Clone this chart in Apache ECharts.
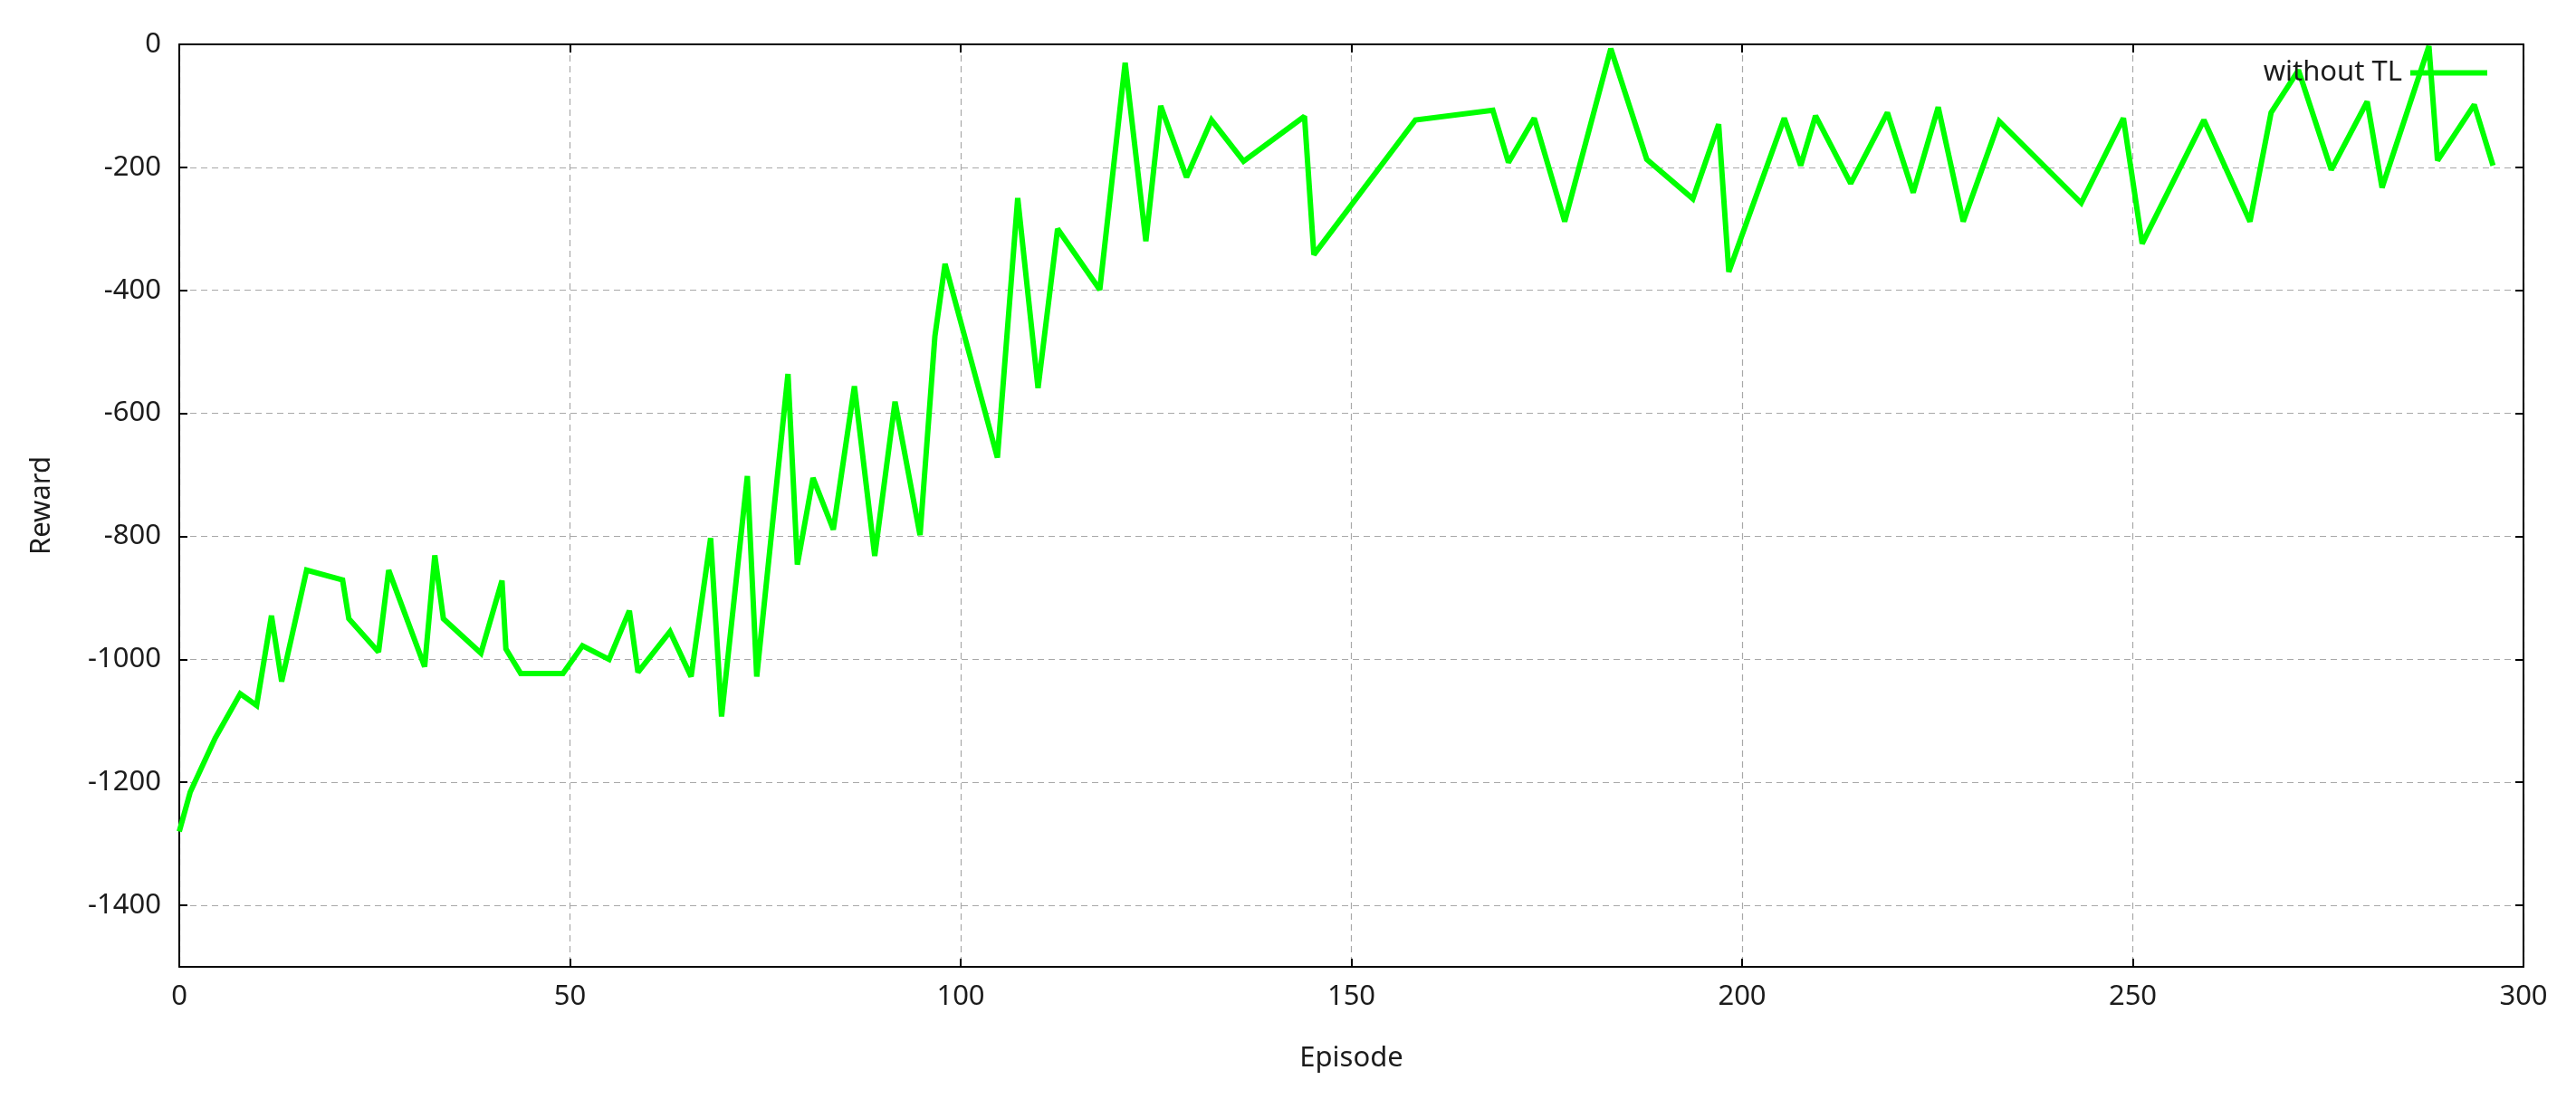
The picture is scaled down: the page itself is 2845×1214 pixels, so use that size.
<!DOCTYPE html>
<html>
<head>
<meta charset="utf-8">
<script src="https://cdn.jsdelivr.net/npm/echarts@6/dist/echarts.min.js"></script>
<style>
html,body{margin:0;padding:0;background:#fff;}
#chart{width:2845px;height:1214px;}
</style>
</head>
<body>
<div id="chart"></div>
<script>
const seriesName = 'without TL';
const xLabelName = 'Episode';
const yLabelName = 'Reward';

const episodes = [0, 1.4, 4.6, 7.8, 9.9, 11.8, 13.1, 16.3, 20.9, 21.7, 25.5, 26.8, 31.4, 32.7, 33.8, 38.6, 41.3, 41.8, 43.7, 49.1,
  51.6, 55.0, 57.6, 58.7, 62.8, 65.5, 68.0, 69.4, 72.7, 73.9, 77.9, 79.1, 81.1, 83.7, 86.4, 89.0, 91.6, 94.8, 96.7, 98.0,
  104.7, 107.3, 109.9, 112.4, 117.8, 121.05, 123.7, 125.6, 128.9, 132.1, 136.2, 144.0, 145.2, 158.2, 168.1, 170.1, 173.4, 177.3, 183.2, 187.8,
  193.7, 197.0, 198.3, 205.4, 207.5, 209.4, 213.9, 218.6, 221.9, 225.1, 228.3, 232.9, 243.4, 248.8, 251.2, 259.1, 265.0, 267.7, 271.2, 275.4,
  280.0, 281.9, 287.9, 289.0, 293.7, 296.1];
const rewards = [-1280, -1216, -1128, -1056, -1075, -929, -1036, -855, -871, -934, -988, -855, -1012, -831, -934, -990, -872, -983, -1023, -1023,
  -978, -1000, -921, -1021, -955, -1028, -803, -1093, -702, -1028, -536, -846, -705, -789, -556, -832, -581, -798, -475, -357,
  -672, -250, -559, -300, -399, -30, -320, -100, -216, -123, -190, -117, -342, -123, -107, -192, -120, -288, -7, -187,
  -251, -130, -370, -120, -197, -116, -226, -111, -241, -102, -288, -125, -258, -120, -324, -123, -288, -111, -42, -204,
  -93, -233, -3, -189, -98, -197];

const xMin = 0, xMax = 300, xStep = 50;
const yMin = -1500, yMax = 0, yStep = 200;

const FONT = 'Noto Sans';
const TXT = '#1c1c1c';
const data = episodes.map((e, i) => [e, rewards[i]]);

function axisLine() { return {show: true, onZero: false, lineStyle: {color: '#000', width: 2}}; }
function ticks() { return {show: true, inside: true, length: 9, lineStyle: {color: '#000', width: 2}}; }
function gridLine() { return {show: true, lineStyle: {color: '#a8a8a8', width: 1.2, type: [7, 5]}}; }

const chart = echarts.init(document.getElementById('chart'), null, {renderer: 'canvas'});
chart.setOption({
  animation: false,
  backgroundColor: '#fff',
  grid: {left: 198, right: 58, top: 49, bottom: 146, containLabel: false},
  legend: {
    right: 93, top: 60, align: 'right', orient: 'horizontal',
    itemWidth: 85, itemHeight: 6,
    data: [{name: seriesName, icon: 'rect'}],
    textStyle: {fontFamily: FONT, fontSize: 31, color: TXT, padding: [0, 4, 0, 0]}
  },
  xAxis: [{
    type: 'value', position: 'bottom', min: xMin, max: xMax, interval: xStep,
    name: xLabelName, nameLocation: 'middle', nameGap: 86,
    nameTextStyle: {fontFamily: FONT, fontSize: 31, color: TXT},
    axisLine: axisLine(), axisTick: ticks(),
    axisLabel: {fontFamily: FONT, fontSize: 31, color: TXT, margin: 18, formatter: v => String(v)},
    splitLine: gridLine()
  }, {
    type: 'value', position: 'top', min: xMin, max: xMax, interval: xStep,
    axisLine: axisLine(), axisTick: ticks(),
    axisLabel: {show: false}, splitLine: {show: false}
  }],
  yAxis: [{
    type: 'value', position: 'left', min: yMin, max: yMax, splitNumber: 7,
    minInterval: yStep, maxInterval: yStep,
    name: yLabelName, nameLocation: 'middle', nameGap: 136,
    nameTextStyle: {fontFamily: FONT, fontSize: 31, color: TXT},
    axisLine: axisLine(), axisTick: ticks(),
    axisLabel: {fontFamily: FONT, fontSize: 31, color: TXT, margin: 20, showMinLabel: false, formatter: v => String(v)},
    splitLine: gridLine()
  }, {
    type: 'value', position: 'right', min: yMin, max: yMax, splitNumber: 7,
    minInterval: yStep, maxInterval: yStep,
    axisLine: axisLine(), axisTick: ticks(),
    axisLabel: {show: false}, splitLine: {show: false}
  }],
  series: [{
    name: seriesName, type: 'line', data: data,
    xAxisIndex: 0, yAxisIndex: 0,
    symbol: 'none', color: '#00ff00',
    lineStyle: {color: '#00ff00', width: 6, join: 'miter', miterLimit: 2},
    z: 3
  }]
});
</script>
</body>
</html>
